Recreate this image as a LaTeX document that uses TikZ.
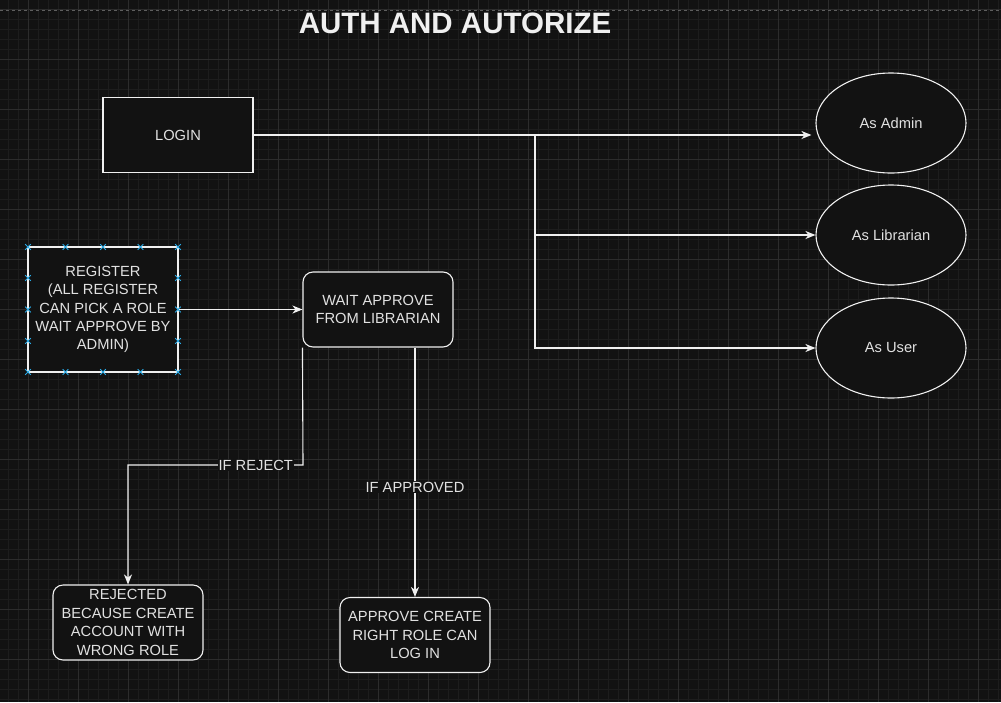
\documentclass[tikz,border=0pt]{standalone}
\usepackage{fontspec}
\setmainfont{Liberation Sans}
\usetikzlibrary{arrows.meta,shapes.geometric,calc}
\definecolor{bg}{RGB}{18,18,18}
\definecolor{minorgrid}{RGB}{29,29,29}
\definecolor{majorgrid}{RGB}{44,44,44}
\definecolor{stroke}{RGB}{240,240,240}
\definecolor{txt}{RGB}{225,225,225}
\definecolor{handle}{RGB}{41,170,230}
\begin{document}
\begin{tikzpicture}[x=1pt,y=-1pt,
  box/.style={draw=stroke,line width=1.1pt,fill=bg,text=txt,minimum width=150pt,minimum height=75pt,inner sep=0pt,align=center,font=\fontsize{14.7}{18.4}\selectfont},
  rbox/.style={box,rounded corners=10pt},
  role/.style={draw=stroke,line width=1.1pt,fill=bg,text=txt,ellipse,minimum width=150pt,minimum height=100pt,inner sep=0pt,font=\fontsize{14.7}{18}\selectfont},
  conn/.style={draw=stroke,line width=1.1pt},
  arr/.style={conn,-{Stealth[length=10pt,width=8pt,inset=3pt]}},
  elabel/.style={fill=bg,text=txt,inner sep=1pt,font=\fontsize{14.7}{17}\selectfont},
  hmark/.style={draw=handle,line width=1pt}
]
\useasboundingbox (0,0) rectangle (1001,702);
\fill[bg] (0,0) rectangle (1001,702);
% grid
\foreach \i in {0,...,99} {\draw[minorgrid,line width=0.6pt] (8.3+10*\i,0) -- (8.3+10*\i,702);}
\foreach \i in {0,...,70} {\draw[minorgrid,line width=0.6pt] (0,9.3+10*\i) -- (1001,9.3+10*\i);}
\foreach \i in {0,...,19} {\draw[majorgrid,line width=0.8pt] (28.3+50*\i,0) -- (28.3+50*\i,702);}
\foreach \i in {0,...,13} {\draw[majorgrid,line width=0.8pt] (0,9.3+50*\i) -- (1001,9.3+50*\i);}
\draw[gray!70!bg,line width=0.8pt,dash pattern=on 3pt off 3pt] (0,10) -- (1001,10);

% title
\node[text=stroke,font=\bfseries\fontsize{29.5}{32}\selectfont] (title) at (455,23) {AUTH AND AUTORIZE};

% nodes
\node[box] (login) at (178,135) {LOGIN};
\node[box,minimum height=125pt] (register) at (103,309.5) {REGISTER\\(ALL REGISTER\\CAN PICK A ROLE\\WAIT APPROVE BY\\ADMIN)};
\node[rbox] (wait) at (378,309.5) {WAIT APPROVE\\FROM LIBRARIAN};
\node[rbox] (rejected) at (128,622.5) {REJECTED\\BECAUSE CREATE\\ACCOUNT WITH\\WRONG ROLE};
\node[rbox] (approve) at (415,635) {APPROVE CREATE\\RIGHT ROLE CAN\\LOG IN};
\node[role] (admin) at (891,123) {As Admin};
\node[role] (librarian) at (891,235) {As Librarian};
\node[role] (user) at (891,348) {As User};

% selection handles on register
\foreach \xx in {28,65.5,103,140.5,178} {
  \foreach \yy in {247,372} {\draw[hmark] (\xx-2.8,\yy-2.8) -- (\xx+2.8,\yy+2.8) (\xx-2.8,\yy+2.8) -- (\xx+2.8,\yy-2.8);}
}
\foreach \yy in {278,309.5,341} {
  \foreach \xx in {28,178} {\draw[hmark] (\xx-2.8,\yy-2.8) -- (\xx+2.8,\yy+2.8) (\xx-2.8,\yy+2.8) -- (\xx+2.8,\yy-2.8);}
}

% connectors
\coordinate (junc) at (535,135);
\draw[arr,shorten >=4pt] (login.east) -- (login.east -| admin.west);
\draw[arr] (junc) |- (librarian.west);
\draw[arr] (junc) |- (user.west);
\draw[arr] (register.east) -- (wait.west);
\coordinate (rj) at (303,465);
\draw[arr] (wait.south west) -- (rj) -| node[elabel,pos=0.135] {IF REJECT} (rejected.north);
\draw[arr] (wait.south -| approve.north) -- node[elabel,pos=0.56] {IF APPROVED} (approve.north);
\end{tikzpicture}
\end{document}
